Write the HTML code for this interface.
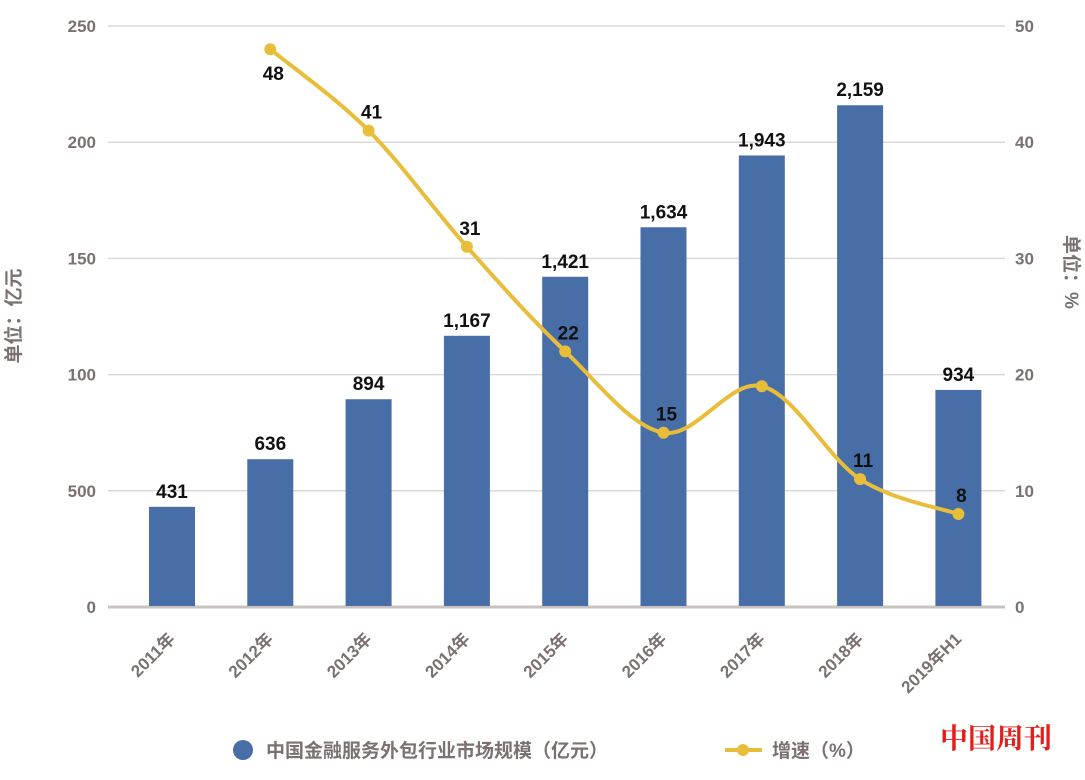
<!DOCTYPE html>
<html><head><meta charset="utf-8"><style>
body{margin:0;background:#fff;}
svg text{font-family:"Liberation Sans","Noto Sans CJK SC",sans-serif;}
</style></head><body>
<svg id="c" width="1085" height="775" viewBox="0 0 1085 775" xmlns="http://www.w3.org/2000/svg">
<g id="grid"></g><g id="bars"></g><g id="line"></g><g id="labels"></g>
<text x="20" y="316" transform="rotate(-90 20 316)" text-anchor="middle" font-size="19" font-weight="bold" fill="#7a7170">单位：亿元</text>
<text x="1065" y="272" transform="rotate(90 1065 272)" text-anchor="middle" font-size="19" font-weight="bold" fill="#7a7170">单位：%</text>
<g>
<circle cx="243" cy="750" r="10" fill="#476ea6"/>
<text x="266" y="757" font-size="19" font-weight="bold" fill="#7a7170">中国金融服务外包行业市场规模（亿元）</text>
<line x1="725" y1="750" x2="762" y2="750" stroke="#e8bd3a" stroke-width="4"/>
<circle cx="743" cy="750" r="6" fill="#e8bd3a"/>
<text x="772" y="757" font-size="19" font-weight="bold" fill="#7a7170">增速（%）</text>
</g>
<text x="1052" y="748" text-anchor="end" font-size="28" font-weight="bold" fill="#e0201b" style="font-family:'Noto Serif CJK SC',serif">中国周刊</text>
</svg>
<script>
const categories=["2011年","2012年","2013年","2014年","2015年","2016年","2017年","2018年","2019年H1"];
const barValues=[431,636,894,1167,1421,1634,1943,2159,934];
const growthValues=[null,48,41,31,22,15,19,11,8];
const growthLabels=["","48","41","31","22","15","","11","8"];
const leftTicks=["0","500","100","150","200","250"];
const rightTicks=["0","10","20","30","40","50"];
const NS="http://www.w3.org/2000/svg";
const y0=607,y1=26,x0=108,x1=1005;
const yL=v=>y0-(v/250)*(y0-y1);
const yR=v=>y0-(v/50)*(y0-y1);
const xC=i=>172+i*98.3;
function mk(t,a,p){const e=document.createElementNS(NS,t);for(const k in a)e.setAttribute(k,a[k]);p.appendChild(e);return e;}
const G=document.getElementById('grid'),B=document.getElementById('bars'),L=document.getElementById('line'),T=document.getElementById('labels');
for(let i=0;i<6;i++){const y=y0-i*(y0-y1)/5;
 const g=mk('line',{x1:x0,x2:x1,y1:y,y2:y,stroke:i==0?'#c8c2c0':'#dcd8d6','stroke-width':i==0?3:1.5},G);
 
 
 const a=mk('text',{x:96,y:y+6,'text-anchor':'end','font-size':17,'font-weight':'bold',fill:'#7a7170'},G);a.textContent=leftTicks[i];
 
 
 const b=mk('text',{x:1015,y:y+6,'font-size':17,'font-weight':'bold',fill:'#7a7170'},G);b.textContent=rightTicks[i];
 
 
}
categories.forEach((c,i)=>{
 const h=barValues[i]/10,y=yL(h);
 const r=mk('rect',{x:xC(i)-23,y:y,width:46,height:y0-y-1,fill:'#476ea6'},B);
 
 
 const t=mk('text',{x:xC(i),y:y-9,'text-anchor':'middle','font-size':19,'font-weight':'bold',fill:'#111'},T);t.textContent=barValues[i].toLocaleString('en-US');
 
 
 const ax=xC(i)+4,ay=640;
 const xl=mk('text',{x:ax,y:ay,'text-anchor':'end','font-size':17,'font-weight':'bold',fill:'#7a7170',transform:`rotate(-45 ${ax} ${ay})`},T);xl.textContent=c;
 
 
});
const pts=[];growthValues.forEach((v,i)=>{if(v!=null)pts.push([xC(i),yR(v),i]);});
let d=`M${pts[0][0]},${pts[0][1]}`;
for(let k=0;k<pts.length-1;k++){const p0=pts[k-1]||pts[k],p1=pts[k],p2=pts[k+1],p3=pts[k+2]||p2;
 d+=` C${p1[0]+(p2[0]-p0[0])/6},${p1[1]+(p2[1]-p0[1])/6} ${p2[0]-(p3[0]-p1[0])/6},${p2[1]-(p3[1]-p1[1])/6} ${p2[0]},${p2[1]}`;}
const pl=mk('path',{d:d,fill:'none',stroke:'#e8bd3a','stroke-width':4},L);


pts.forEach(p=>{const c=mk('circle',{cx:p[0],cy:p[1],r:6,fill:'#e8bd3a'},L);
 
 
 const lab=growthLabels[p[2]];if(lab){const t=mk('text',{x:p[0]+3,y:p[1]-12,'text-anchor':'middle','font-size':19,'font-weight':'bold',fill:'#111'},T);t.textContent=lab;
 if(p[2]==1)t.setAttribute('y',p[1]+31);
 
 }
});
</script>
</body></html>
